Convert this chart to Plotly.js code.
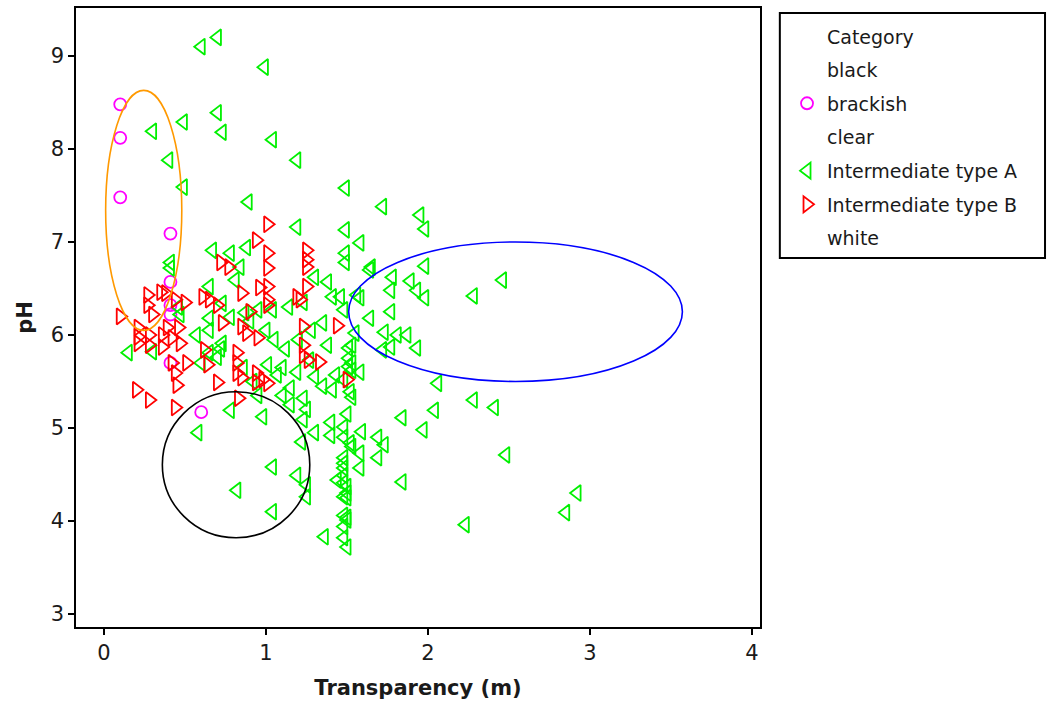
<!DOCTYPE html>
<html><head><meta charset="utf-8">
<script src="https://cdn.plot.ly/plotly-3.0.1.min.js"></script>
<style>html,body{margin:0;padding:0;background:#fff}#chart{width:1049px;height:705px}</style>
</head><body><div id="chart"></div>
<script>
// ---- data ----
const legendTitle = "Category";
const categories = ["black", "brackish", "clear", "Intermediate type A", "Intermediate type B", "white"];

const brackishX = [0.10, 0.10, 0.10, 0.41, 0.41, 0.41, 0.41, 0.41, 0.60];
const brackishY = [8.48, 8.12, 7.48, 7.09, 6.57, 6.32, 6.22, 5.70, 5.17];

const typeAX = [0.60,0.70,0.99,0.30,0.49,0.70,0.73,1.04,0.40,1.19,0.49,0.89,1.49,1.72,1.95,1.98,1.19,1.49,1.58,0.67,
  0.78,0.88,0.41,0.41,1.49,1.49,1.65,1.98,1.89,1.93,1.98,2.46,2.28,1.87,1.93,2.06,2.28,2.41,2.04,1.84,
  1.97,2.48,1.84,2.92,2.85,2.23,1.64,1.78,1.38,1.77,1.77,1.64,1.58,1.41,1.35,1.48,1.73,1.81,1.77,1.72,
  1.53,1.53,1.53,1.58,1.41,1.48,1.53,1.40,1.40,1.48,1.48,1.59,1.69,1.73,1.52,1.69,1.58,1.58,1.48,1.48,
  1.48,1.48,1.48,1.48,1.48,1.36,1.53,1.48,1.48,1.44,1.50,1.50,1.50,1.50,1.50,0.81,0.84,1.30,0.65,0.73,
  0.78,0.65,0.87,0.95,1.04,1.14,1.23,1.46,1.56,1.28,1.55,0.15,0.30,0.57,0.60,0.70,0.86,1.01,1.10,1.07,
  1.19,1.27,1.38,1.51,1.51,1.51,1.43,1.15,1.23,1.52,0.78,0.98,1.23,1.50,0.58,1.04,1.19,0.82,1.25,1.25,
  1.04,1.50,0.65,0.72,0.90,1.00,1.05,1.12,1.20,1.30,1.35,1.15,1.25,1.10,0.92,0.95,1.30,1.22,0.46,0.47,
  0.65,0.73];
const typeAY = [9.10,9.20,8.88,8.19,8.29,8.39,8.18,8.10,7.88,7.88,7.59,7.43,7.58,7.38,7.29,7.14,7.16,7.13,6.99,6.91,
  6.88,6.94,6.78,6.72,6.88,6.78,6.73,6.74,6.58,6.48,6.40,6.59,6.42,6.00,5.86,5.48,5.30,5.22,5.19,5.11,
  4.98,4.71,4.42,4.30,4.09,3.96,6.70,6.62,6.57,6.48,6.25,6.18,6.40,6.41,6.13,6.27,6.03,6.00,5.87,5.84,
  5.89,5.70,5.62,5.60,5.41,5.52,5.33,5.06,4.92,5.01,4.90,4.96,4.90,4.82,4.84,4.68,4.73,4.57,4.62,4.49,
  4.41,4.26,4.06,3.94,3.82,3.83,4.80,4.68,4.57,4.44,4.37,4.30,4.25,4.01,3.72,6.59,6.73,6.62,6.52,6.34,
  6.19,6.18,6.24,6.27,6.27,6.30,6.35,6.41,6.43,6.05,6.02,5.81,5.82,6.00,5.70,5.76,5.65,5.68,5.65,5.57,
  5.60,5.73,5.89,5.86,5.75,5.66,5.57,5.43,5.32,5.39,5.19,5.12,5.09,5.15,4.95,4.58,4.49,4.33,4.39,4.26,
  4.10,4.04,6.05,5.85,6.15,6.05,5.95,5.85,5.95,5.55,5.45,5.25,5.20,5.35,5.50,5.35,4.95,4.85,6.30,6.22,
  5.81,5.91];

const typeBX = [1.01,0.94,0.72,0.77,1.01,1.01,1.01,1.25,1.25,1.25,1.25,0.10,0.27,0.27,0.30,0.35,0.38,0.44,0.50,0.61,
  0.65,0.70,0.96,0.85,1.19,1.21,1.01,1.01,0.90,1.44,0.21,0.21,0.21,0.28,0.28,0.36,0.36,0.39,0.42,0.46,
  0.47,0.42,0.44,0.45,0.51,0.62,0.64,0.70,0.20,0.28,0.44,0.73,0.85,0.88,0.95,1.23,1.23,1.23,0.82,0.82,
  0.82,0.85,0.94,0.94,0.98,1.01,1.26,1.33,0.83,1.50];
const typeBY = [7.19,7.02,6.78,6.73,6.88,6.72,6.52,6.91,6.81,6.73,6.52,6.20,6.43,6.32,6.22,6.46,6.45,6.38,6.35,6.41,
  6.38,6.32,6.51,6.45,6.41,6.38,6.38,6.32,6.25,6.10,6.08,5.98,5.91,6.00,5.89,6.00,5.87,6.08,5.97,6.08,
  5.91,5.70,5.59,5.46,5.70,5.84,5.68,5.49,5.41,5.30,5.22,6.13,6.09,6.02,5.97,6.09,5.89,5.78,5.81,5.70,
  5.59,5.54,5.59,5.49,5.52,5.48,5.73,5.71,5.32,5.52];

// categories with no plotted points
const noPointX = [null];
const noPointY = [null];

// ellipse regions (data coordinates)
const ellipseX0 = [0.36, 1.51, 0.01];
const ellipseX1 = [1.27, 3.57, 0.48];
const ellipseY0 = [3.82, 5.50, 6.05];
const ellipseY1 = [5.39, 7.00, 8.63];

const xTicks = [0, 1, 2, 3, 4];
const yTicks = [3, 4, 5, 6, 7, 8, 9];

// ---- styles ----
const FONT = "Tahoma, 'DejaVu Sans', sans-serif";
const TXT = "#1a1a1a";
const ellipseColors = ["#000000", "#0000ff", "#ff9900"];

function emptyTrace(name, i) {
  return {type: "scatter", mode: "markers", x: noPointX, y: noPointY, name: name,
    legendgroup: "g" + i, marker: {color: "rgba(0,0,0,0)", size: 1}, hoverinfo: "skip"};
}

const traces = [
  emptyTrace(categories[0], 0),
  {type: "scatter", mode: "markers", x: brackishX, y: brackishY, name: categories[1], legendgroup: "g1",
    marker: {symbol: "circle-open", size: 12, color: "#ff00ff", line: {width: 1.8}}},
  emptyTrace(categories[2], 2),
  {type: "scatter", mode: "markers", x: typeAX, y: typeAY, name: categories[3], legendgroup: "g3",
    marker: {symbol: "triangle-left-open", size: 14, color: "#00f000", line: {width: 1.8}}},
  {type: "scatter", mode: "markers", x: typeBX, y: typeBY, name: categories[4], legendgroup: "g4",
    marker: {symbol: "triangle-right-open", size: 14, color: "#ff0000", line: {width: 1.8}}},
  emptyTrace(categories[5], 5)
];

const shapes = ellipseX0.map((x0, i) => ({
  type: "circle", xref: "x", yref: "y", x0: x0, x1: ellipseX1[i], y0: ellipseY0[i], y1: ellipseY1[i],
  line: {color: ellipseColors[i], width: 1.6}, layer: "above"
}));
// legend frame
shapes.push({type: "rect", xref: "paper", yref: "paper", x0: 1.029, x1: 1.4167, y0: 0.596, y1: 0.992,
  line: {color: "#000", width: 2}, fillcolor: "rgba(0,0,0,0)"});

const layout = {
  width: 1049, height: 705,
  margin: {l: 76, r: 289, t: 8, b: 78},
  paper_bgcolor: "#fff", plot_bgcolor: "#fff",
  font: {family: FONT, color: TXT, size: 19},
  showlegend: true,
  legend: {
    x: 1.0395, xanchor: "left", y: 0.931, yanchor: "top",
    bgcolor: "rgba(0,0,0,0)", borderwidth: 0,
    font: {family: FONT, size: 19, color: TXT},
    traceorder: "grouped", tracegroupgap: 6
  },
  annotations: [{
    text: legendTitle, xref: "paper", yref: "paper", x: 1.095, y: 0.953,
    xanchor: "left", yanchor: "middle", showarrow: false,
    font: {family: FONT, size: 19, color: TXT}
  }],
  xaxis: {
    range: [-0.173, 4.049], tickvals: xTicks, ticktext: xTicks.map(String),
    showgrid: false, zeroline: false, showline: true, mirror: true, linecolor: "#000", linewidth: 1.6,
    ticks: "outside", ticklen: 6, tickwidth: 1.3, tickcolor: "#000",
    tickfont: {family: FONT, size: 21, color: TXT},
    title: {text: "<b>Transparency (m)</b>", font: {family: FONT, size: 21, color: TXT}, standoff: 16}
  },
  yaxis: {
    range: [2.86, 9.516], tickvals: yTicks, ticktext: yTicks.map(String),
    showgrid: false, zeroline: false, showline: true, mirror: true, linecolor: "#000", linewidth: 1.6,
    ticks: "outside", ticklen: 6, tickwidth: 1.3, tickcolor: "#000",
    tickfont: {family: FONT, size: 21, color: TXT},
    title: {text: "<b>pH</b>", font: {family: FONT, size: 21, color: TXT}, standoff: 12}
  },
  shapes: shapes
};

Plotly.newPlot("chart", traces, layout, {displayModeBar: false, staticPlot: true});
</script></body></html>
